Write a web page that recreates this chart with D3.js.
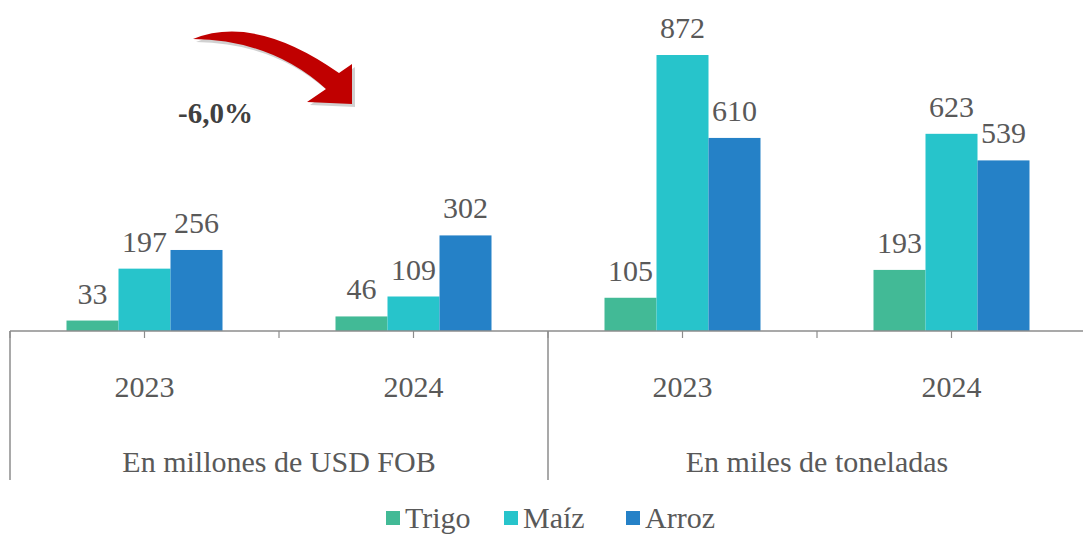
<!DOCTYPE html>
<html>
<head>
<meta charset="utf-8">
<script src="https://cdn.jsdelivr.net/npm/d3@7"></script>
<style>
  body { margin: 0; background: #fff; }
</style>
</head>
<body>
<script>
'use strict';

const groups = ['En millones de USD FOB', 'En miles de toneladas'];
const years = ['2023', '2024', '2023', '2024'];
const seriesNames = ['Trigo', 'Maíz', 'Arroz'];
const trigo = [33, 46, 105, 193];
const maiz = [197, 109, 872, 623];
const arroz = [256, 302, 610, 539];
const changeLabel = '-6,0%';

const colors = {
  'Trigo': '#42BA96',
  'Maíz': '#27C4CB',
  'Arroz': '#2581C7'
};

let width = 1084;
let height = 534;
let baseY = 331;

let svg = d3.select('body')
  .append('svg')
  .attr('width', width)
  .attr('height', height);

let keys = years.map((d, i) => i);
let values = [trigo, maiz, arroz];

let x0 = d3.scaleBand()
  .domain(keys)
  .range([10, 1086]);

let x1 = d3.scaleBand()
  .domain(seriesNames)
  .range([0, 156]);

let y = d3.scaleLinear()
  .domain([0, 900])
  .range([baseY, baseY - 900 * 0.3165]);

function addText(x, yy, str, anchor) {
  return svg.append('text')
    .attr('x', x)
    .attr('y', yy)
    .attr('text-anchor', anchor)
    .style('font-family', 'Liberation Serif')
    .style('font-size', '30px')
    .style('fill', '#595959')
    .text(str);
}

// red curved arrow (shadow drawn as a blurred copy underneath)
svg.append('path')
  .attr('d', 'M193,39 Q255,14 339,73 L352,64 L352,104 L307,102 L326,89 Q272,40 193,39 Z')
  .attr('transform', 'translate(3,3)')
  .attr('fill', '#000')
  .attr('opacity', 0.18);

svg.append('path')
  .attr('d', 'M193,39 Q255,14 339,73 L352,64 L352,104 L307,102 L326,89 Q272,40 193,39 Z')
  .attr('fill', '#C00000');

svg.append('text')
  .attr('x', 178)
  .attr('y', 123)
  .style('font-family', 'Liberation Serif')
  .style('font-size', '29px')
  .style('font-weight', 'bold')
  .style('fill', '#404040')
  .text(changeLabel);

// bars and value labels
seriesNames.forEach(function(s, si) {
  values[si].forEach(function(v, i) {
    let bx = x0(i) + x0.bandwidth() / 2 - 78 + x1(s);
    svg.append('rect')
      .attr('x', bx)
      .attr('y', y(v))
      .attr('width', x1.bandwidth())
      .attr('height', baseY - y(v))
      .attr('fill', colors[s]);
    addText(bx + x1.bandwidth() / 2, y(v) - 17, v, 'middle');
  });
});

// axis line and ticks
let axisColor = '#8c8c8c';
svg.append('line')
  .attr('x1', 10).attr('x2', 1083)
  .attr('y1', baseY).attr('y2', baseY)
  .attr('stroke', axisColor)
  .attr('stroke-width', 1.5);

let step = x0.bandwidth() / 2;
d3.range(0, 8).forEach(function(k) {
  let px = 10 + k * step;
  svg.append('line')
    .attr('x1', px).attr('x2', px)
    .attr('y1', baseY).attr('y2', baseY + 7)
    .attr('stroke', axisColor)
    .attr('stroke-width', 1.2);
});

// group separators
[x0(0), x0(2)].forEach(function(px) {
  svg.append('line')
    .attr('x1', px).attr('x2', px)
    .attr('y1', baseY).attr('y2', 480)
    .attr('stroke', axisColor)
    .attr('stroke-width', 1.5);
});

// year labels
years.forEach(function(d, i) {
  addText(x0(i) + x0.bandwidth() / 2, 397, d, 'middle');
});

// group labels
groups.forEach(function(d, i) {
  addText(x0(i * 2) + x0.bandwidth(), 472, d, 'middle');
});

// legend
let legendX = [386, 504, 626];
seriesNames.forEach(function(s, i) {
  svg.append('rect')
    .attr('x', legendX[i])
    .attr('y', 511)
    .attr('width', 14)
    .attr('height', 14)
    .attr('fill', colors[s]);
  addText(legendX[i] + 19, 528, s, 'start');
});
</script>
</body>
</html>
